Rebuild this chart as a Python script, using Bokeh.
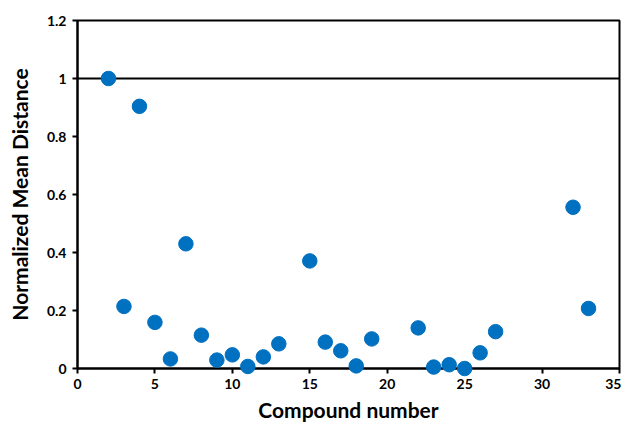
from bokeh.plotting import figure
from bokeh.models import ColumnDataSource, FixedTicker, Span, Range1d
from bokeh.embed import file_html
from bokeh.resources import INLINE

compound = [2, 3, 4, 5, 6, 7, 8, 9, 10, 11, 12, 13, 15, 16, 17, 18, 19, 22, 23, 24, 25, 26, 27, 32, 33]
distance = [1.0, 0.214, 0.904, 0.159, 0.033, 0.43, 0.115, 0.029, 0.047, 0.007, 0.04, 0.085,
            0.371, 0.091, 0.061, 0.009, 0.102, 0.14, 0.005, 0.013, 0.0, 0.054, 0.127, 0.556, 0.207]
x_ticks = [0, 5, 10, 15, 20, 25, 30, 35]
y_ticks = [0, 0.2, 0.4, 0.6, 0.8, 1.0, 1.2]
y_labels = {0: "0", 0.2: "0.2", 0.4: "0.4", 0.6: "0.6", 0.8: "0.8", 1.0: "1", 1.2: "1.2"}
reference_level = 1.0

FONT = "Lato"

p = figure(width=621, height=425, output_backend="svg", toolbar_location=None,
           x_range=Range1d(0, 35), y_range=Range1d(0, 1.2),
           min_border_left=77, min_border_right=2, min_border_top=20, min_border_bottom=57)

src = ColumnDataSource(dict(x=compound, y=distance))
r = p.scatter("x", "y", source=src, size=14.5, fill_color="#0070C0", line_color="#0070C0",
              level="overlay")

p.add_layout(Span(location=reference_level, dimension="width", line_color="black", line_width=2))

p.xgrid.visible = False
p.ygrid.visible = False
p.outline_line_color = "black"
p.outline_line_width = 2
p.outline_line_alpha = 1

for ax in (p.xaxis[0], p.yaxis[0]):
    ax.axis_line_color = "black"
    ax.axis_line_width = 2
    ax.major_tick_line_color = "black"
    ax.major_tick_line_width = 2
    ax.major_tick_out = 5
    ax.major_tick_in = 0
    ax.minor_tick_line_color = None
    ax.major_label_text_font = FONT
    ax.major_label_text_font_style = "bold"
    ax.major_label_text_font_size = "14px"
    ax.major_label_text_color = "black"
    ax.axis_label_text_font = FONT
    ax.axis_label_text_font_style = "bold"
    ax.axis_label_text_font_size = "21px"
    ax.axis_label_text_color = "black"

p.xaxis[0].ticker = FixedTicker(ticks=x_ticks)
p.yaxis[0].ticker = FixedTicker(ticks=y_ticks)
p.yaxis[0].major_label_overrides = y_labels
p.xaxis[0].axis_label = "Compound number"
p.yaxis[0].axis_label = "Normalized Mean Distance"
p.xaxis[0].axis_label_standoff = 5
p.yaxis[0].axis_label_standoff = 12
p.xaxis[0].major_label_standoff = 5
p.yaxis[0].major_label_standoff = 6

open("out.html", "w").write(file_html(p, INLINE))
